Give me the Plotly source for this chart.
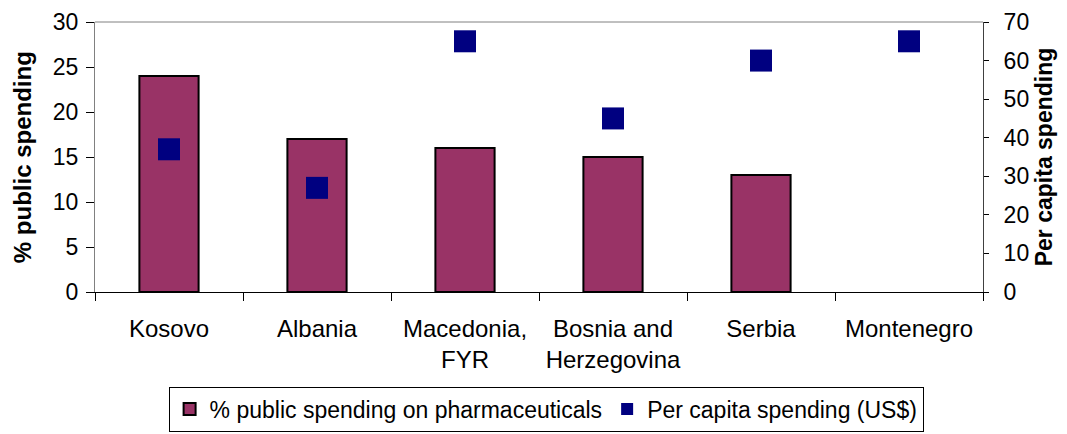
import plotly.graph_objects as go

# data
countries = ["Kosovo", "Albania", "Macedonia,<br>FYR", "Bosnia and<br>Herzegovina", "Serbia", "Montenegro"]
pct_public = [24, 17, 16, 15, 13, None]
per_capita = [37, 27, 65, 45, 60, 65]

FONT = "Liberation Sans, Arial, sans-serif"

fig = go.Figure()

# bars: % public spending (left axis)
fig.add_trace(go.Bar(
    x=countries, y=pct_public,
    name="% public spending on pharmaceuticals",
    marker=dict(color="#993366", line=dict(color="black", width=2)),
    width=0.4,
    yaxis="y",
))

# squares: per capita spending (right axis)
fig.add_trace(go.Scatter(
    x=countries, y=per_capita,
    name="Per capita spending (US$)",
    mode="markers",
    marker=dict(symbol="square", size=22, color="#000080"),
    yaxis="y2",
))

# the page body has an 8px margin, so the figure is drawn 8px smaller
fig.update_layout(
    width=1059, height=426,
    margin=dict(l=87, r=84, t=14, b=142, autoexpand=False),
    paper_bgcolor="white", plot_bgcolor="white",
    font=dict(family=FONT, size=23, color="black"),
    showlegend=True,
    legend=dict(
        orientation="h",
        x=0.508, xanchor="center",
        y=-0.35, yanchor="top",
        bordercolor="black", borderwidth=1,
        font=dict(size=23),
        itemsizing="constant",
        itemwidth=30,
        tracegroupgap=0,
    ),
    xaxis=dict(
        type="category",
        range=[-0.5, 5.5],
        automargin=False,
        showline=True, linecolor="black", linewidth=1,
        ticks="outside", ticklen=8, tickcolor="black",
        tickson="boundaries",
        ticklabelstandoff=15,
        showgrid=False,
        tickfont=dict(size=24),
    ),
    yaxis=dict(
        range=[0, 30], dtick=5,
        automargin=False,
        showline=True, linecolor="#808080", linewidth=1,
        ticks="outside", ticklen=8, tickcolor="black",
        ticklabelstandoff=3,
        showgrid=False, zeroline=False,
        tickfont=dict(size=23),
    ),
    yaxis2=dict(
        range=[0, 70], dtick=10,
        automargin=False,
        overlaying="y", side="right",
        showline=True, linecolor="#404040", linewidth=1,
        ticks="outside", ticklen=5, tickcolor="black",
        ticklabelstandoff=10,
        showgrid=False, zeroline=False,
        tickfont=dict(size=23),
    ),
    # inner halves of the crossing tick marks
    yaxis3=dict(
        range=[0, 30], dtick=5, overlaying="y", side="left",
        automargin=False, showticklabels=False, showgrid=False, zeroline=False,
        ticks="inside", ticklen=7, tickcolor="black",
    ),
    yaxis4=dict(
        range=[0, 70], dtick=10, overlaying="y", side="right",
        automargin=False, showticklabels=False, showgrid=False, zeroline=False,
        ticks="inside", ticklen=9, tickcolor="black",
    ),
    shapes=[dict(type="line", xref="paper", yref="paper", x0=0, x1=1, y0=1, y1=1,
                 line=dict(color="#808080", width=1))],
    annotations=[
        dict(text="<b>% public spending</b>", xref="paper", yref="paper",
             x=-0.082, y=0.5, xanchor="center", yanchor="middle",
             textangle=-90, showarrow=False, font=dict(size=24)),
        dict(text="<b>Per capita spending</b>", xref="paper", yref="paper",
             x=1.069, y=0.5, xanchor="center", yanchor="middle",
             textangle=-90, showarrow=False, font=dict(size=23)),
    ],
)

fig.write_html("out.html")
